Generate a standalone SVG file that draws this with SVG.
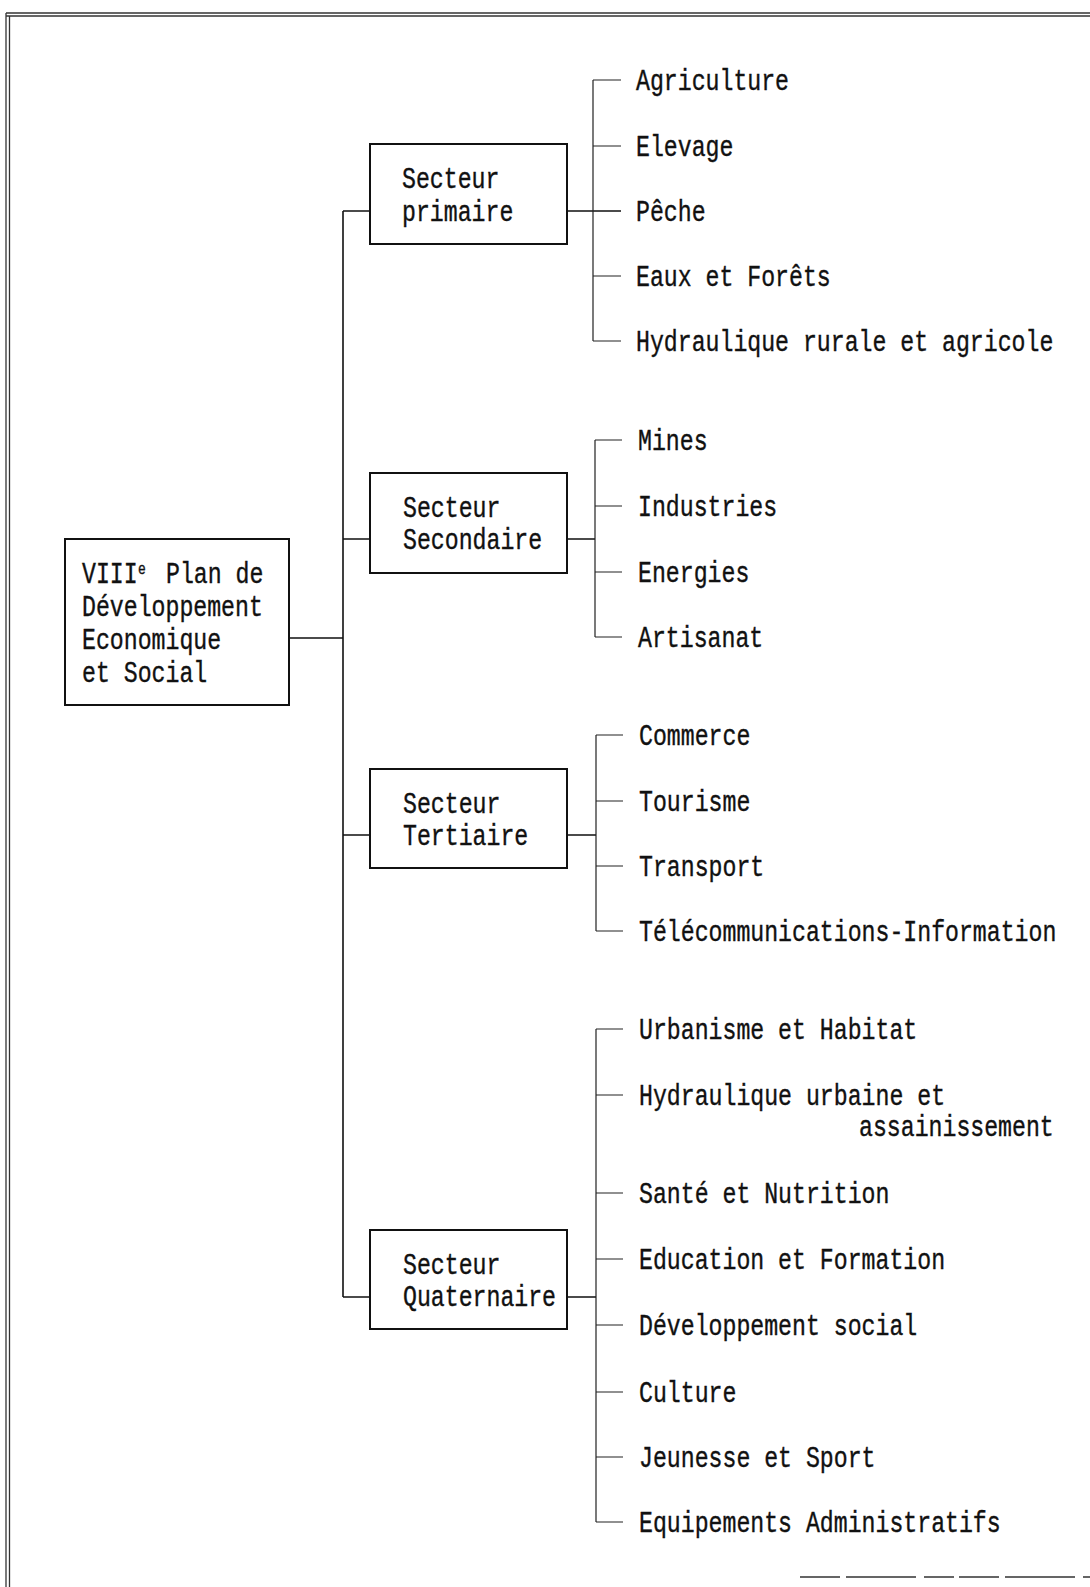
<svg xmlns="http://www.w3.org/2000/svg" width="1090" height="1587" viewBox="0 0 1090 1587">
<style>
.t{font-family:"Liberation Mono","Courier New",monospace;font-size:23.2px;fill:#111;stroke:#111;stroke-width:0.3}
.box{fill:#fff;stroke:#111;stroke-width:2}
.ln{fill:none;stroke:#111;stroke-width:1.6}
.lf{fill:none;stroke:#222;stroke-width:1.2}
.fr{fill:none;stroke:#333;stroke-width:1.3}
</style>
<rect width="1090" height="1587" fill="#fff"/>
<g id="frame">
<line class="fr" x1="6" y1="13" x2="1090" y2="13"/>
<line class="fr" x1="6" y1="16" x2="1090" y2="16"/>
<line class="fr" x1="6" y1="13" x2="6" y2="1587"/>
<line class="fr" x1="9.5" y1="16" x2="9.5" y2="1587"/>
<line class="fr" x1="800" y1="1577" x2="1090" y2="1577" stroke-dasharray="40 6 70 8 30 5"/>
</g>
<g id="connectors">
<path class="ln" d="M289 638H343M343 211V1297M343 211H370M343 539H370M343 835H370M343 1297H370"/>
<path class="ln" d="M567 211H621M567 539H595M567 835H596M567 1297H596"/>
<path class="lf" d="M593 80V341M593 80H621M593 146H621M593 276H621M593 341H621"/>
<path class="lf" d="M595 440V637M595 440H622M595 506H622M595 572H622M595 637H622"/>
<path class="lf" d="M596 735V931M596 735H623M596 801H623M596 866H623M596 931H623"/>
<path class="lf" d="M596 1029V1522M596 1029H623M596 1095H623M596 1193H623M596 1259H623M596 1325H623M596 1392H623M596 1457H623M596 1522H623"/>
</g>
<g id="root">
<rect class="box" x="65" y="539" width="224" height="166"/>
<text class="t" transform="translate(82,583) scale(1,1.28)">VIII<tspan x="56" dy="-7" font-size="13">e</tspan><tspan x="84" dy="7">Plan de</tspan></text>
<text class="t" transform="translate(82,616) scale(1,1.28)">Développement</text>
<text class="t" transform="translate(82,649) scale(1,1.28)">Economique</text>
<text class="t" transform="translate(82,682) scale(1,1.28)">et Social</text>
</g>
<g id="primaire">
<rect class="box" x="370" y="144" width="197" height="100"/>
<text class="t" transform="translate(402,188) scale(1,1.28)">Secteur</text>
<text class="t" transform="translate(402,221) scale(1,1.28)">primaire</text>
</g>
<g id="secondaire">
<rect class="box" x="370" y="473" width="197" height="100"/>
<text class="t" transform="translate(403,517) scale(1,1.28)">Secteur</text>
<text class="t" transform="translate(403,549) scale(1,1.28)">Secondaire</text>
</g>
<g id="tertiaire">
<rect class="box" x="370" y="769" width="197" height="99"/>
<text class="t" transform="translate(403,813) scale(1,1.28)">Secteur</text>
<text class="t" transform="translate(403,845) scale(1,1.28)">Tertiaire</text>
</g>
<g id="quaternaire">
<rect class="box" x="370" y="1230" width="197" height="99"/>
<text class="t" transform="translate(403,1274) scale(1,1.28)">Secteur</text>
<text class="t" transform="translate(403,1306) scale(1,1.28)">Quaternaire</text>
</g>
<g id="leaves-primaire">
<text class="t" transform="translate(636,90) scale(1,1.28)">Agriculture</text>
<text class="t" transform="translate(636,156) scale(1,1.28)">Elevage</text>
<text class="t" transform="translate(636,221) scale(1,1.28)">Pêche</text>
<text class="t" transform="translate(636,286) scale(1,1.28)">Eaux et Forêts</text>
<text class="t" transform="translate(636,351) scale(1,1.28)">Hydraulique rurale et agricole</text>
</g>
<g id="leaves-secondaire">
<text class="t" transform="translate(638,450) scale(1,1.28)">Mines</text>
<text class="t" transform="translate(638,516) scale(1,1.28)">Industries</text>
<text class="t" transform="translate(638,582) scale(1,1.28)">Energies</text>
<text class="t" transform="translate(638,647) scale(1,1.28)">Artisanat</text>
</g>
<g id="leaves-tertiaire">
<text class="t" transform="translate(639,745) scale(1,1.28)">Commerce</text>
<text class="t" transform="translate(639,811) scale(1,1.28)">Tourisme</text>
<text class="t" transform="translate(639,876) scale(1,1.28)">Transport</text>
<text class="t" transform="translate(639,941) scale(1,1.28)">Télécommunications-Information</text>
</g>
<g id="leaves-quaternaire">
<text class="t" transform="translate(639,1039) scale(1,1.28)">Urbanisme et Habitat</text>
<text class="t" transform="translate(639,1105) scale(1,1.28)">Hydraulique urbaine et</text>
<text class="t" transform="translate(859,1136) scale(1,1.28)">assainissement</text>
<text class="t" transform="translate(639,1203) scale(1,1.28)">Santé et Nutrition</text>
<text class="t" transform="translate(639,1269) scale(1,1.28)">Education et Formation</text>
<text class="t" transform="translate(639,1335) scale(1,1.28)">Développement social</text>
<text class="t" transform="translate(639,1402) scale(1,1.28)">Culture</text>
<text class="t" transform="translate(639,1467) scale(1,1.28)">Jeunesse et Sport</text>
<text class="t" transform="translate(639,1532) scale(1,1.28)">Equipements Administratifs</text>
</g>
</svg>
